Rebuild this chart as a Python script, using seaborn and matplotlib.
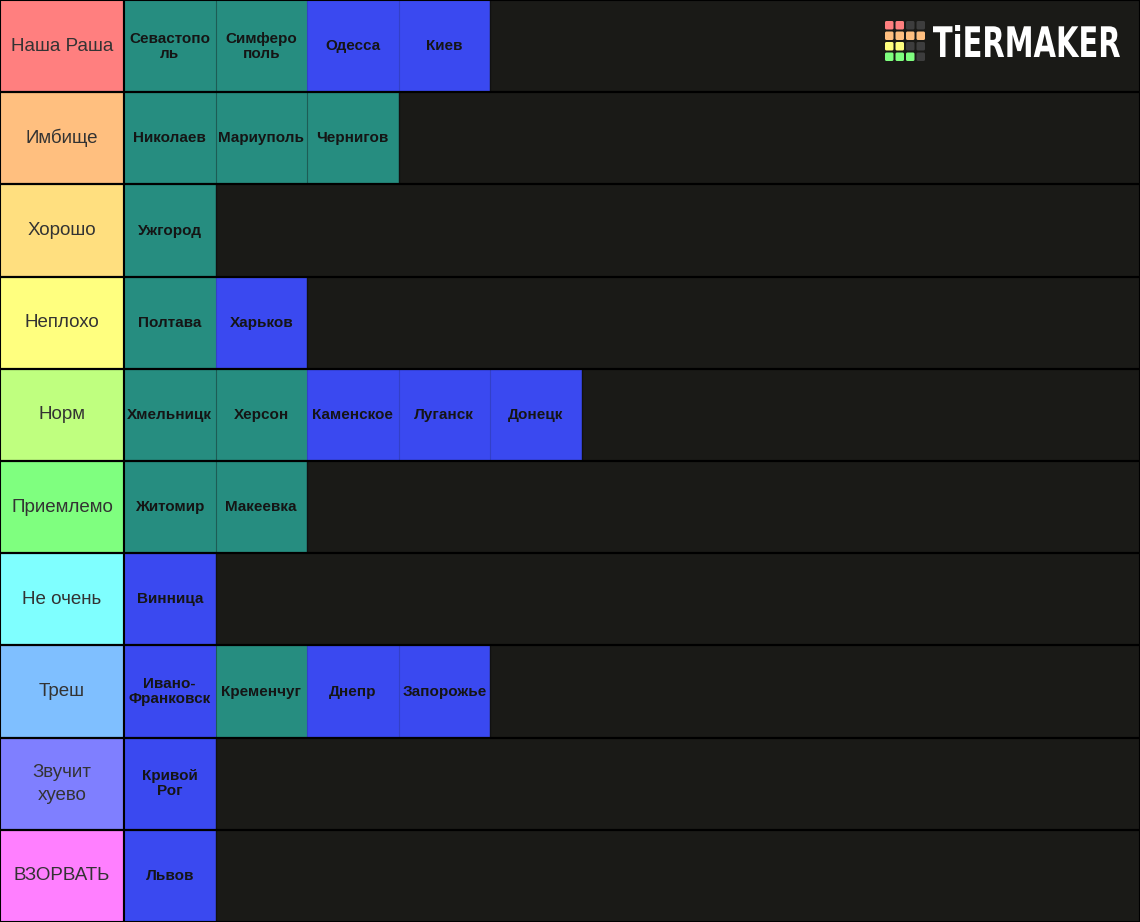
import numpy as np
import pandas as pd
import matplotlib
matplotlib.use('Agg')
import matplotlib.pyplot as plt
from matplotlib.colors import ListedColormap
from matplotlib.patches import FancyBboxPatch, PathPatch
from matplotlib.textpath import TextPath
from matplotlib.font_manager import FontProperties
from matplotlib.transforms import Affine2D
import seaborn as sns

# tier rows
tiers = ['Наша Раша', 'Имбище', 'Хорошо', 'Неплохо', 'Норм', 'Приемлемо',
         'Не очень', 'Треш', 'Звучит\nхуево', 'ВЗОРВАТЬ']
tier_colors = ['#FF7F7F', '#FFBF7F', '#FFDF7F', '#FFFF7F', '#BFFF7F',
               '#7FFF7F', '#7FFFFF', '#7FBFFF', '#7F7FFF', '#FF7FFF']

# items placed in each tier, and their tile colour group (0 = teal, 1 = blue)
items = [
    ['Севастопо\nль', 'Симферо\nполь', 'Одесса', 'Киев'],
    ['Николаев', 'Мариуполь', 'Чернигов'],
    ['Ужгород'],
    ['Полтава', 'Харьков'],
    ['Хмельницк', 'Херсон', 'Каменское', 'Луганск', 'Донецк'],
    ['Житомир', 'Макеевка'],
    ['Винница'],
    ['Ивано-\nФранковск', 'Кременчуг', 'Днепр', 'Запорожье'],
    ['Кривой\nРог'],
    ['Львов'],
]
groups = [
    [0, 0, 1, 1],
    [0, 0, 0],
    [0],
    [0, 1],
    [0, 0, 1, 1, 1],
    [0, 0],
    [1],
    [1, 0, 1, 1],
    [1],
    [1],
]
tile_colors = ['#268D80', '#3A49F0']
bg = '#1A1A17'

ncol = max(len(r) for r in items)
vals = np.full((len(tiers), ncol), np.nan)
labels = np.full((len(tiers), ncol), '', dtype=object)
for i, (row, grp) in enumerate(zip(items, groups)):
    for j, (name, g) in enumerate(zip(row, grp)):
        vals[i, j] = g
        labels[i, j] = name
grid = pd.DataFrame(vals)
tier_df = pd.DataFrame({'tier': np.arange(len(tiers))})

W, H = 1140, 922
label_w = 124
cell_w = 91.5

fig = plt.figure(figsize=(W / 100, H / 100), dpi=100, facecolor=bg)

# label column
ax_l = fig.add_axes([0, 0, label_w / W, 1])
sns.heatmap(tier_df, ax=ax_l, cmap=ListedColormap(tier_colors), cbar=False,
            annot=np.array(tiers, dtype=object).reshape(-1, 1), fmt='',
            vmin=-0.5, vmax=len(tiers) - 0.5,
            annot_kws={'fontsize': 13.5, 'color': '#333333',
                       'family': 'Liberation Sans', 'linespacing': 1.45},
            xticklabels=False, yticklabels=False)

# tiles
ax_c = fig.add_axes([label_w / W, 0, 1 - label_w / W, 1])
ax_c.set_facecolor(bg)
sns.heatmap(grid, ax=ax_c, cmap=ListedColormap(tile_colors), cbar=False,
            vmin=-0.5, vmax=1.5, annot=labels, fmt='',
            annot_kws={'fontsize': 11, 'fontweight': 'bold', 'color': '#151515',
                       'family': 'Liberation Sans', 'linespacing': 1.1},
            xticklabels=False, yticklabels=False)
ax_c.set_xlim(0, (W - label_w) / cell_w)
ax_c.set_ylim(len(tiers), 0)

# faint separators between neighbouring tiles
for i, grp in enumerate(groups):
    for j in range(1, len(grp)):
        ax_c.vlines(j, i, i + 1, color='#1d5c55' if grp[j] == 0 else '#3340c8',
                    lw=0.8)
    ax_c.vlines(len(grp), i, i + 1, color='#111111', lw=1.0)

for ax in (ax_l, ax_c):
    for k in range(1, len(tiers)):
        ax.axhline(k, color='#000000', lw=1.6)
    for s in ax.spines.values():
        s.set_visible(True)
        s.set_color('#000000')
        s.set_linewidth(1.5)
ax_l.spines['right'].set_color('#2a2a2a')

# logo overlay
ax_o = fig.add_axes([0, 0, 1, 1])
ax_o.set_xlim(0, W)
ax_o.set_ylim(H, 0)
ax_o.axis('off')
logo = [['#FF7F7F', '#FF7F7F', '#3d3d3d', '#3d3d3d'],
        ['#FFBF7F', '#FFBF7F', '#FFBF7F', '#FFBF7F'],
        ['#FFFF7F', '#FFFF7F', '#3d3d3d', '#3d3d3d'],
        ['#7FFF7F', '#7FFF7F', '#7FFF7F', '#3d3d3d']]
for r, row in enumerate(logo):
    for c, col in enumerate(row):
        ax_o.add_patch(FancyBboxPatch((885 + c * 10.5, 21 + r * 10.5), 8.5, 8.5,
                                      boxstyle='round,pad=0,rounding_size=1.5',
                                      fc=col, ec='none'))
tp = TextPath((0, 0), 'TiERMAKER', size=10,
              prop=FontProperties(family='DejaVu Sans', weight='bold'))
ext = tp.get_extents()
sx = 187 / ext.width
sy = 32 / ext.height
tr = (Affine2D().translate(-ext.x0, -ext.y0).scale(sx, -sy)
      .translate(933, 57))
ax_o.add_patch(PathPatch(tr.transform_path(tp), fc='white', ec='none'))

fig.savefig('out.png', dpi=100, facecolor=bg)
